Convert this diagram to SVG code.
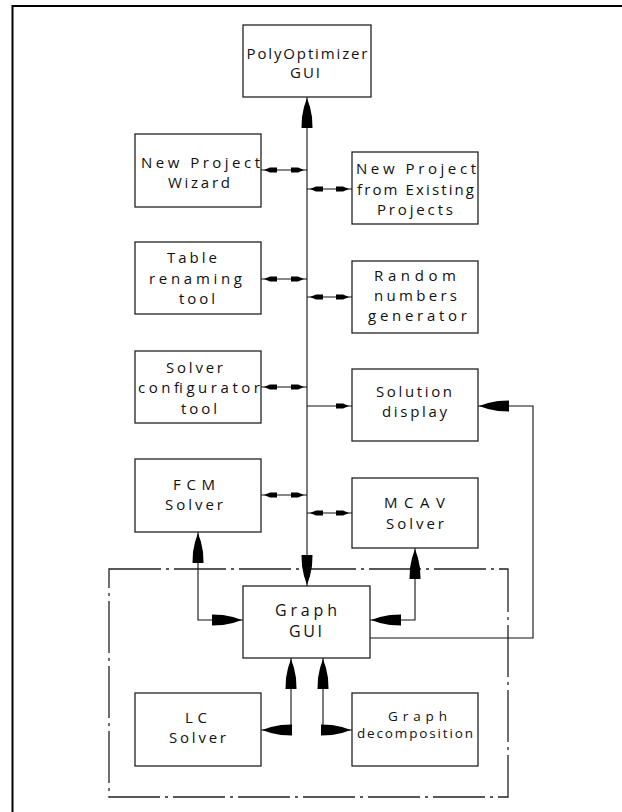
<svg xmlns="http://www.w3.org/2000/svg" width="622" height="812" viewBox="0 0 622 812">
<style>
  .box { fill: #fff; stroke: #222; stroke-width: 1.3; }
  .ln { fill: none; stroke: #111; stroke-width: 1.1; }
  .t { font-family: "Open Sans", "DejaVu Sans", sans-serif; font-size: 15px; fill: #111; text-anchor: middle; }
  .sm { font-size: 13.5px; }
  .lg { font-size: 16px; }
  .frame { fill: none; stroke: #222; stroke-width: 1.3; stroke-dasharray: 52 5 3 5; }
  .small { marker-start: url(#sa); marker-end: url(#sa); }
</style>
<defs>
  <marker id="sa" markerUnits="userSpaceOnUse" orient="auto-start-reverse" overflow="visible" markerWidth="1" markerHeight="1" refX="0" refY="0">
    <path d="M-3,0 L-9,-2.6 L-16,-2.6 L-16,2.6 L-9,2.6 Z" fill="#000"/>
  </marker>
  <marker id="ba" markerUnits="userSpaceOnUse" orient="auto-start-reverse" overflow="visible" markerWidth="1" markerHeight="1" refX="0" refY="0">
    <path d="M-1,0 L-10,-3 L-20,-5 L-31,-5.5 L-31,5.5 L-20,5 L-10,3 Z" fill="#000"/>
  </marker>
</defs>
<rect width="622" height="812" fill="#fff"/>
<path d="M12.5,812 V6 H622" fill="none" stroke="#000" stroke-width="2"/>
<g id="frame-graph">
  <path class="frame" d="M109,569 H508 V797 H109 Z"/>
</g>
<g id="connectors">
  <line class="ln" x1="307" y1="97" x2="307" y2="586" marker-start="url(#ba)" marker-end="url(#ba)"/>
  <line class="ln small" x1="261" y1="170" x2="307" y2="170"/>
  <line class="ln small" x1="261" y1="279" x2="307" y2="279"/>
  <line class="ln small" x1="261" y1="387" x2="307" y2="387"/>
  <line class="ln small" x1="261" y1="495" x2="307" y2="495"/>
  <line class="ln small" x1="307" y1="189" x2="352" y2="189"/>
  <line class="ln small" x1="307" y1="297" x2="352" y2="297"/>
  <line class="ln small" x1="307" y1="513" x2="352" y2="513"/>
  <line class="ln" x1="307" y1="406" x2="352" y2="406" marker-end="url(#sa)"/>
  <path class="ln" d="M198,532 V620 H243" marker-start="url(#ba)" marker-end="url(#ba)"/>
  <path class="ln" d="M415,548 V620 H370" marker-start="url(#ba)" marker-end="url(#ba)"/>
  <path class="ln" d="M370,638 H533 V406 H478" marker-end="url(#ba)"/>
  <path class="ln" d="M291,658 V730 H261" marker-start="url(#ba)" marker-end="url(#ba)"/>
  <path class="ln" d="M323,658 V730 H352" marker-start="url(#ba)" marker-end="url(#ba)"/>
</g>
<g id="polyoptimizer-gui">
  <rect class="box" x="243" y="25" width="128" height="72"/>
  <text class="t" x="307" y="59" textLength="121" lengthAdjust="spacing">PolyOptimizer</text>
  <text class="t" x="305" y="78" textLength="30" lengthAdjust="spacing">GUI</text>
</g>
<g id="new-project-wizard">
  <rect class="box" x="135" y="134" width="126" height="73"/>
  <text class="t" x="200.5" y="168" textLength="119" lengthAdjust="spacing">New Project</text>
  <text class="t" x="199" y="188" textLength="62" lengthAdjust="spacing">Wizard</text>
</g>
<g id="new-project-existing">
  <rect class="box" x="352" y="152" width="126" height="72"/>
  <text class="t" x="416" y="174" textLength="120" lengthAdjust="spacing">New Project</text>
  <text class="t" x="415.5" y="195" textLength="117" lengthAdjust="spacing">from Existing</text>
  <text class="t" x="415" y="215" textLength="76" lengthAdjust="spacing">Projects</text>
</g>
<g id="table-renaming">
  <rect class="box" x="135" y="242" width="126" height="72"/>
  <text class="t" x="192" y="263" textLength="50" lengthAdjust="spacing">Table</text>
  <text class="t" x="195.5" y="284" textLength="93" lengthAdjust="spacing">renaming</text>
  <text class="t" x="197" y="304" textLength="36" lengthAdjust="spacing">tool</text>
</g>
<g id="random-numbers">
  <rect class="box" x="352" y="261" width="126" height="72"/>
  <text class="t" x="415" y="281" textLength="82" lengthAdjust="spacing">Random</text>
  <text class="t" x="415.5" y="301" textLength="83" lengthAdjust="spacing">numbers</text>
  <text class="t" x="417.5" y="321" textLength="99" lengthAdjust="spacing">generator</text>
</g>
<g id="solver-configurator">
  <rect class="box" x="135" y="351" width="126" height="72"/>
  <text class="t" x="194.5" y="373" textLength="57" lengthAdjust="spacing">Solver</text>
  <text class="t" x="199" y="393" textLength="122" lengthAdjust="spacing">configurator</text>
  <text class="t" x="199" y="414" textLength="36" lengthAdjust="spacing">tool</text>
</g>
<g id="solution-display">
  <rect class="box" x="352" y="369" width="126" height="72"/>
  <text class="t" x="414" y="397" textLength="76" lengthAdjust="spacing">Solution</text>
  <text class="t" x="414.5" y="417" textLength="65" lengthAdjust="spacing">display</text>
</g>
<g id="fcm-solver">
  <rect class="box" x="135" y="459" width="126" height="73"/>
  <text class="t" x="194" y="490" textLength="42" lengthAdjust="spacing">FCM</text>
  <text class="t" x="194" y="510" textLength="58" lengthAdjust="spacing">Solver</text>
</g>
<g id="mcav-solver">
  <rect class="box" x="352" y="478" width="126" height="70"/>
  <text class="t" x="414.5" y="508" textLength="61" lengthAdjust="spacing">MCAV</text>
  <text class="t" x="415" y="529" textLength="58" lengthAdjust="spacing">Solver</text>
</g>
<g id="graph-gui">
  <rect class="box" x="243" y="586" width="127" height="72"/>
  <text class="t lg" x="306" y="616" textLength="62" lengthAdjust="spacing">Graph</text>
  <text class="t lg" x="305.5" y="637" textLength="33" lengthAdjust="spacing">GUI</text>
</g>
<g id="lc-solver">
  <rect class="box" x="135" y="693" width="126" height="73"/>
  <text class="t" x="196" y="723" textLength="22" lengthAdjust="spacing">LC</text>
  <text class="t" x="197.5" y="743" textLength="57" lengthAdjust="spacing">Solver</text>
</g>
<g id="graph-decomposition">
  <rect class="box" x="352" y="693" width="126" height="73"/>
  <text class="t sm" x="417.5" y="721" textLength="59" lengthAdjust="spacing">Graph</text>
  <text class="t sm" x="415" y="738" textLength="116" lengthAdjust="spacing">decomposition</text>
</g>
</svg>
